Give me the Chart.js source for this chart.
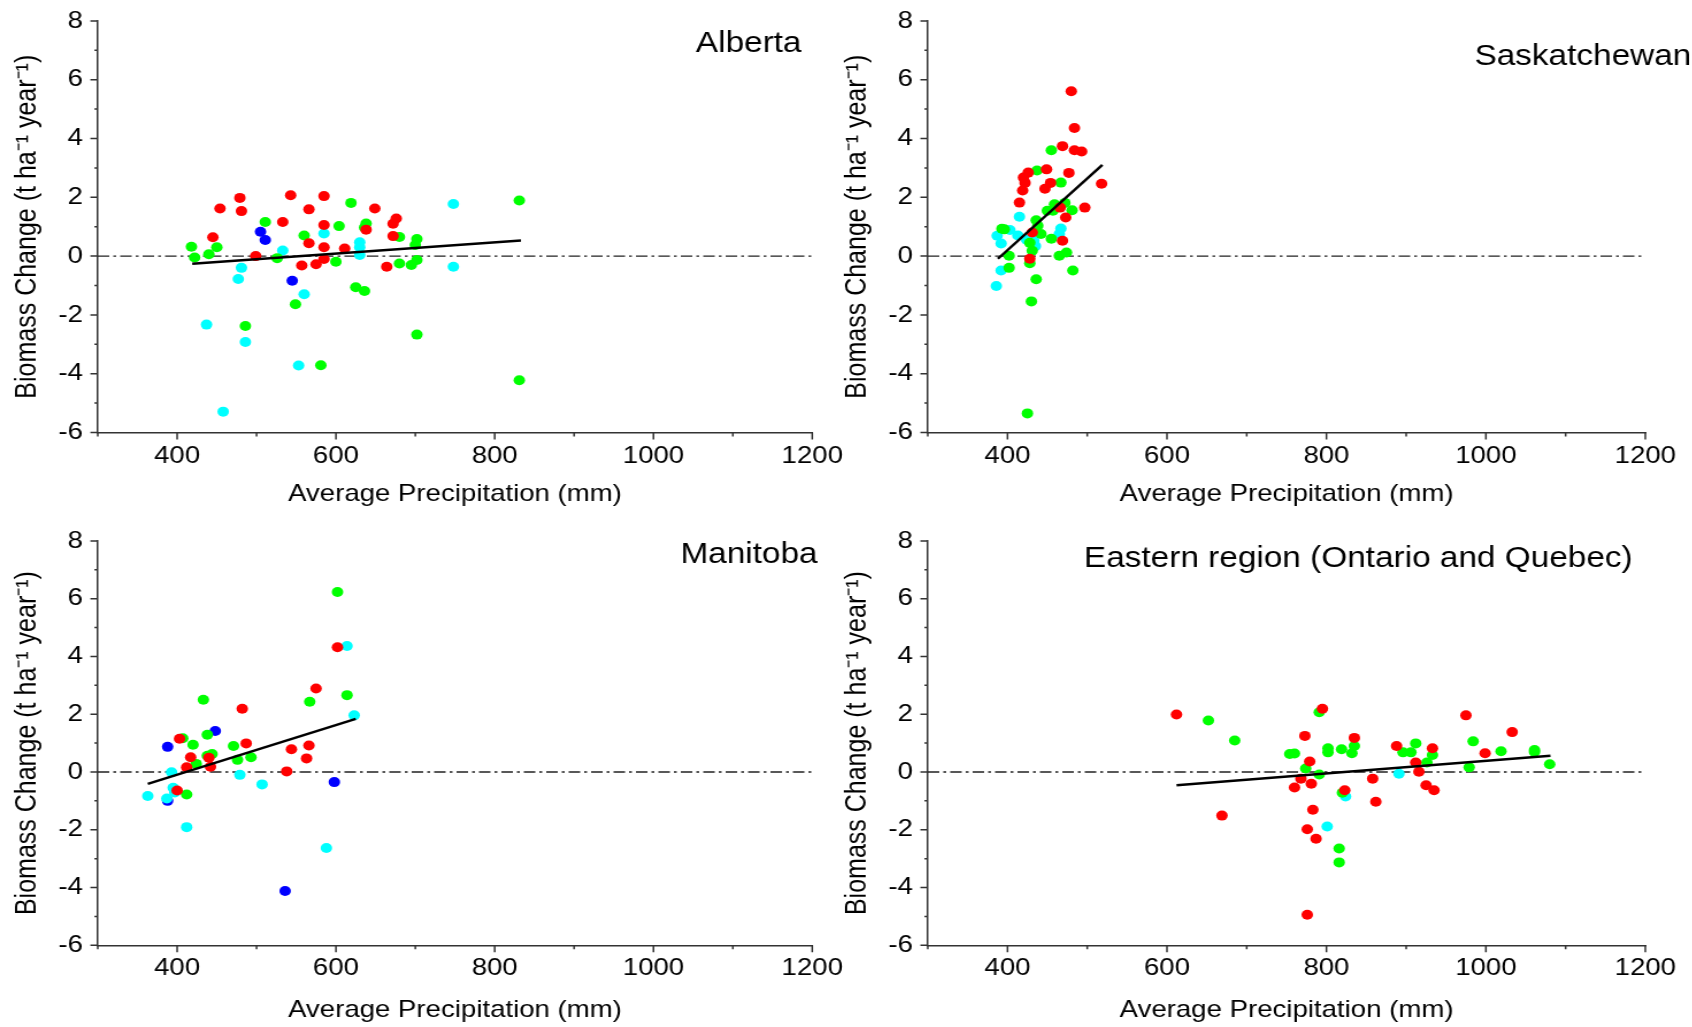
<!DOCTYPE html>
<html>
<head>
<meta charset="utf-8">
<script src="https://cdn.jsdelivr.net/npm/chart.js"></script>
<style>
body{margin:0;background:#fff;}
#page{position:relative;width:1692px;height:1027px;overflow:hidden;background:#fff;}
.panel{position:absolute;transform:scaleX(1.15);transform-origin:0 0;}
.panel canvas{display:block;}
</style>
</head>
<body>
<div id="page">
    <div class="panel" style="left:0px;top:0px;"><canvas id="ab" width="735" height="520"></canvas></div>
    <div class="panel" style="left:830px;top:0px;"><canvas id="sk" width="749" height="520"></canvas></div>
    <div class="panel" style="left:0px;top:520px;"><canvas id="mb" width="735" height="507"></canvas></div>
    <div class="panel" style="left:830px;top:520px;"><canvas id="ea" width="749" height="507"></canvas></div>
</div>
<script>
// tick labels
const xLabels = [400, 600, 800, 1000, 1200];
const yLabels = [-6, -4, -2, 0, 2, 4, 6, 8];
const zeroX = [300, 1200];
const zeroY = [0, 0];

// Alberta  [precipitation, biomass change]
const abRed = [[454,1.62],[479,1.98],[481,1.53],[445,0.64],[543,2.07],[585,2.04],[566,1.59],[533,1.16],[585,1.06],[649,1.62],[676,1.28],[672,1.10],[672,0.68],[638,0.90],[566,0.44],[585,0.30],[611,0.26],[499,0.0],[585,-0.10],[575,-0.28],[557,-0.32],[664,-0.36]];
const abGreen = [[418,0.32],[422,-0.05],[440,0.06],[450,0.30],[511,1.16],[526,-0.07],[560,0.70],[604,1.02],[619,1.81],[638,1.11],[636,0.97],[680,0.65],[700,0.38],[702,0.58],[702,-0.13],[695,-0.30],[680,-0.25],[600,-0.19],[625,-1.06],[636,-1.19],[549,-1.64],[486,-2.38],[581,-3.71],[702,-2.67],[831,1.89],[831,-4.22]];
const abCyan = [[748,1.77],[585,0.77],[630,0.47],[630,0.30],[630,0.04],[533,0.19],[481,-0.40],[748,-0.36],[477,-0.78],[560,-1.30],[437,-2.33],[486,-2.92],[553,-3.72],[458,-5.29]];
const abBlue = [[505,0.83],[511,0.55],[545,-0.84]];
const abFitX = [419, 833];
const abFitY = [-0.26, 0.53];

// Saskatchewan
const skRed = [[480,5.61],[484,4.36],[469,3.74],[484,3.60],[493,3.56],[449,2.95],[477,2.83],[426,2.84],[420,2.67],[422,2.49],[454,2.49],[447,2.29],[419,2.23],[518,2.46],[415,1.82],[497,1.65],[466,1.65],[473,1.31],[431,0.80],[469,0.52],[428,-0.09]];
const skGreen = [[455,3.60],[437,2.91],[467,2.50],[459,1.76],[472,1.81],[450,1.54],[481,1.56],[457,1.54],[436,1.22],[438,1.03],[442,0.75],[455,0.59],[393,0.93],[396,0.91],[428,0.45],[431,0.18],[474,0.12],[465,0.01],[402,0.01],[402,-0.40],[428,-0.24],[436,-0.79],[482,-0.49],[430,-1.54],[425,-5.35]];
const skCyan = [[387,0.69],[392,0.43],[403,0.89],[415,1.34],[413,0.70],[424,0.56],[433,0.52],[435,0.34],[467,0.94],[465,0.75],[392,-0.49],[386,-1.02]];
const skFitX = [388, 519];
const skFitY = [-0.09, 3.10];

// Manitoba
const mbRed = [[602,4.32],[575,2.89],[482,2.19],[403,1.15],[487,0.99],[566,0.92],[544,0.79],[417,0.51],[440,0.49],[563,0.47],[412,0.16],[442,0.18],[538,0.02],[400,-0.64]];
const mbGreen = [[602,6.23],[614,2.66],[567,2.43],[433,2.50],[407,1.17],[438,1.29],[420,0.94],[471,0.90],[438,0.56],[444,0.62],[493,0.51],[476,0.42],[424,0.28],[412,-0.78]];
const mbCyan = [[614,4.36],[623,1.96],[393,-0.01],[395,-0.55],[397,-0.71],[363,-0.83],[387,-0.92],[479,-0.10],[507,-0.43],[412,-1.91],[588,-2.63]];
const mbBlue = [[388,0.87],[448,1.42],[598,-0.35],[388,-1.00],[536,-4.12]];
const mbFitX = [363, 625];
const mbFitY = [-0.41, 1.84];

// Eastern region
const eaRed = [[612,1.99],[669,-1.51],[773,1.25],[795,2.19],[835,1.18],[779,0.36],[768,-0.23],[760,-0.54],[781,-0.41],[783,-1.31],[776,-1.98],[787,-2.31],[776,-4.94],[823,-0.63],[858,-0.23],[862,-1.03],[888,0.90],[912,0.33],[916,0.01],[925,-0.46],[933,0.82],[935,-0.63],[975,1.96],[999,0.65],[1033,1.38]];
const eaGreen = [[652,1.78],[685,1.09],[754,0.62],[760,0.64],[774,0.12],[791,2.07],[791,-0.09],[802,0.82],[802,0.68],[819,0.79],[832,0.65],[835,0.90],[820,-0.72],[816,-2.65],[816,-3.13],[896,0.68],[906,0.68],[912,0.99],[926,0.33],[933,0.59],[979,0.16],[984,1.06],[1019,0.72],[1061,0.76],[1061,0.69],[1080,0.27]];
const eaCyan = [[801,-1.89],[824,-0.85],[891,-0.06]];
const eaFitX = [612, 1081];
const eaFitY = [-0.46, 0.56];

const RED = "#ff0000", GREEN = "#00ff00", CYAN = "#00ffff", BLUE = "#0000ff";

Chart.defaults.font.family = '"Liberation Sans", Arial, sans-serif';
Chart.defaults.color = "#000";

const axisTicks = {
    id: "axisTicks",
    afterDraw(chart){
        const ctx = chart.ctx;
        const a = chart.chartArea;
        const xs = chart.scales.x;
        const ys = chart.scales.y;

        ctx.save();
        ctx.strokeStyle = "#333";
        ctx.lineWidth = 1.5;
        ctx.beginPath();

        for(let v = ys.min; v <= ys.max; v += 1){
            const p = ys.getPixelForValue(v);
            const len = v % 2 === 0 ? 6.4 : 2.9;
            ctx.moveTo(a.left - len, p);
            ctx.lineTo(a.left, p);
        }

        for(let v = xs.min; v <= xs.max; v += 100){
            const p = xs.getPixelForValue(v);
            const len = v % 200 === 0 ? 7 : 4;
            ctx.moveTo(p, a.bottom);
            ctx.lineTo(p, a.bottom + len);
        }

        ctx.stroke();
        ctx.restore();
    }
};

const panelTitle = {
    id: "panelTitle",
    afterDraw(chart, args, opts){
        const ctx = chart.ctx;
        ctx.save();
        ctx.font = '29px "Liberation Sans", Arial, sans-serif';
        ctx.fillStyle = "#000";
        ctx.textAlign = "right";
        ctx.textBaseline = "alphabetic";
        ctx.fillText(opts.text, opts.x, opts.y);
        ctx.restore();
    }
};

function toPts(arr){
    return arr.map(p => ({x: p[0], y: p[1]}));
}

function zip(xs, ys){
    return xs.map((x, i) => ({x: x, y: ys[i]}));
}

function makePanel(id, series, fitX, fitY, title, box){

    const sets = [];

    sets.push({
        data: zip(fitX, fitY),
        showLine: true,
        borderColor: "#000",
        borderWidth: 2.5,
        pointRadius: 0
    });

    series.forEach(s => {
        sets.push({
            data: toPts(s[0]),
            pointBackgroundColor: s[1],
            pointBorderColor: s[1],
            pointBorderWidth: 0,
            pointRadius: 5
        });
    });

    sets.push({
        data: zip(zeroX, zeroY),
        showLine: true,
        borderColor: "#222",
        borderWidth: 1.3,
        borderDash: [10, 3.5, 2.5, 3.5],
        pointRadius: 0
    });

    new Chart(document.getElementById(id), {
        type: "scatter",
        data: {datasets: sets},
        options: {
            responsive: false,
            animation: false,
            events: [],
            layout: {padding: {top: box.top, right: box.right, left: 0, bottom: 0}},
            plugins: {
                legend: {display: false},
                tooltip: {enabled: false},
                panelTitle: {text: title, x: box.tx, y: box.ty}
            },
            scales: {
                x: {
                    type: "linear",
                    min: zeroX[0],
                    max: zeroX[1],
                    afterFit(s){ s.height = box.xh; },
                    border: {color: "#333", width: 1.5},
                    grid: {drawOnChartArea: false, tickLength: 7, tickColor: "rgba(0,0,0,0)"},
                    ticks: {
                        stepSize: 100,
                        autoSkip: false,
                        maxRotation: 0,
                        padding: 2,
                        font: {size: 24},
                        callback: v => xLabels.includes(v) ? String(v) : ""
                    },
                    title: {
                        display: true,
                        text: "Average Precipitation (mm)",
                        font: {size: 24},
                        padding: {top: 0, bottom: box.tp}
                    }
                },
                y: {
                    min: yLabels[0],
                    max: yLabels[yLabels.length - 1],
                    afterFit(s){ s.width = 85; },
                    border: {color: "#333", width: 1.5},
                    grid: {drawOnChartArea: false, tickLength: 6.4, tickColor: "rgba(0,0,0,0)"},
                    ticks: {
                        stepSize: 2,
                        padding: 6.5,
                        font: {size: 24},
                        callback: v => String(v)
                    },
                    title: {
                        display: true,
                        text: "Biomass Change (t ha\u207B\u00B9 year\u207B\u00B9)",
                        font: {size: 25},
                        padding: {top: 9, bottom: 0}
                    }
                }
            }
        },
        plugins: [axisTicks, panelTitle]
    });
}

makePanel("ab", [[abRed, RED], [abGreen, GREEN], [abCyan, CYAN], [abBlue, BLUE]], abFitX, abFitY,
    "Alberta", {top: 20, right: 26, xh: 87.5, tp: 10.8, tx: 697, ty: 51.7});

makePanel("sk", [[skRed, RED], [skGreen, GREEN], [skCyan, CYAN]], skFitX, skFitY,
    "Saskatchewan", {top: 20, right: 40, xh: 87.5, tp: 10.8, tx: 749, ty: 65});

makePanel("mb", [[mbRed, RED], [mbGreen, GREEN], [mbCyan, CYAN], [mbBlue, BLUE]], mbFitX, mbFitY,
    "Manitoba", {top: 15.7, right: 26, xh: 81.7, tp: 2.6, tx: 711, ty: 43.3});

makePanel("ea", [[eaRed, RED], [eaGreen, GREEN], [eaCyan, CYAN]], eaFitX, eaFitY,
    "Eastern region (Ontario and Quebec)", {top: 15.7, right: 40, xh: 81.7, tp: 2.6, tx: 698, ty: 46.7});
</script>
</body>
</html>
